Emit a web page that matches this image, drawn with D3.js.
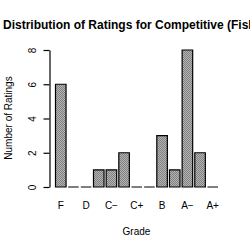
<!DOCTYPE html>
<html>
<head>
<meta charset="utf-8">
<script src="https://cdn.jsdelivr.net/npm/d3@7"></script>
<style>
  body { margin: 0; background: #fff; }
  svg text { font-family: "Liberation Sans", Arial, sans-serif; fill: #000; }
</style>
</head>
<body>
<div id="chart"></div>
<script>
var grades = ['F', 'D\u2212', 'D', 'D+', 'C\u2212', 'C', 'C+', 'B\u2212', 'B', 'B+', 'A\u2212', 'A', 'A+']
var counts = [6, 0, 0, 1, 1, 2, 0, 0, 3, 1, 8, 2, 0]
var shownLabels = ['F', 'D', 'C\u2212', 'C+', 'B', 'A\u2212', 'A+']
var yTicks = [0, 2, 4, 6, 8]

var width = 250
var height = 250

var svg = d3.select('#chart')
  .append('svg')
  .attr('width', width)
  .attr('height', height)

// grey checker fill like the original
var defs = svg.append('defs')
var pat = defs.append('pattern')
  .attr('id', 'checker')
  .attr('width', 2)
  .attr('height', 2)
  .attr('patternUnits', 'userSpaceOnUse')
pat.append('rect').attr('width', 2).attr('height', 2).attr('fill', '#b4b4b4')
pat.append('rect').attr('width', 1).attr('height', 1).attr('fill', '#808080')
pat.append('rect').attr('x', 1).attr('y', 1).attr('width', 1).attr('height', 1).attr('fill', '#808080')

var xPositionScale = d3.scaleBand()
  .domain(grades)
  .range([55.5, 218])
  .paddingInner(0.167)
  .paddingOuter(0)

var yPositionScale = d3.scaleLinear().domain([0, 8]).range([187, 50])

svg.append('text')
  .attr('x', 3)
  .attr('y', 29)
  .attr('font-size', 12)
  .attr('font-weight', 'bold')
  .text('Distribution of Ratings for Competitive (Fisher)')

var bars = svg.append('g').attr('class', 'bars')

// outline path per bar, so empty grades still show a flat line
bars.selectAll('.bar')
  .data(counts)
  .enter().append('path')
  .attr('class', 'bar')
  .attr('d', (d, i) => {
    var x0 = xPositionScale(grades[i])
    var x1 = x0 + xPositionScale.bandwidth()
    var y0 = yPositionScale(0)
    var y1 = yPositionScale(d)
    return 'M' + x0 + ',' + y0 + 'L' + x0 + ',' + y1 + 'L' + x1 + ',' + y1 + 'L' + x1 + ',' + y0 + 'Z'
  })
  .attr('fill', 'url(#checker)')
  .attr('stroke', '#000')
  .attr('stroke-width', 1.2)

var yAxis = d3.axisLeft(yPositionScale)
  .tickValues(yTicks)
  .tickSize(6)
  .tickSizeOuter(0)
  .tickPadding(0)
var yAxisG = svg.append('g')
  .attr('class', 'axis axis-y')
  .attr('transform', 'translate(49.5,0)')
  .call(yAxis)
yAxisG.select('.domain').attr('stroke-width', 1.2)
yAxisG.selectAll('.tick line').attr('stroke-width', 1.2)
yAxisG.selectAll('.tick text')
  .attr('font-size', 10)
  .attr('font-family', '"Liberation Sans", Arial, sans-serif')
  .attr('fill', '#000')
  .attr('text-anchor', 'middle')
  .attr('x', 0)
  .attr('dy', 0)
  .attr('transform', 'translate(-14,0) rotate(-90)')

var xAxisG = svg.append('g').attr('class', 'axis axis-x')
xAxisG.selectAll('text')
  .data(shownLabels)
  .enter().append('text')
  .attr('x', d => xPositionScale(d) + xPositionScale.bandwidth() / 2)
  .attr('y', 209)
  .attr('font-size', 10)
  .attr('text-anchor', 'middle')
  .text(d => d)

svg.append('text')
  .attr('x', 136.5)
  .attr('y', 235)
  .attr('font-size', 10)
  .attr('text-anchor', 'middle')
  .text('Grade')

svg.append('text')
  .attr('transform', 'translate(12,118) rotate(-90)')
  .attr('font-size', 10)
  .attr('text-anchor', 'middle')
  .text('Number of Ratings')
</script>
</body>
</html>
